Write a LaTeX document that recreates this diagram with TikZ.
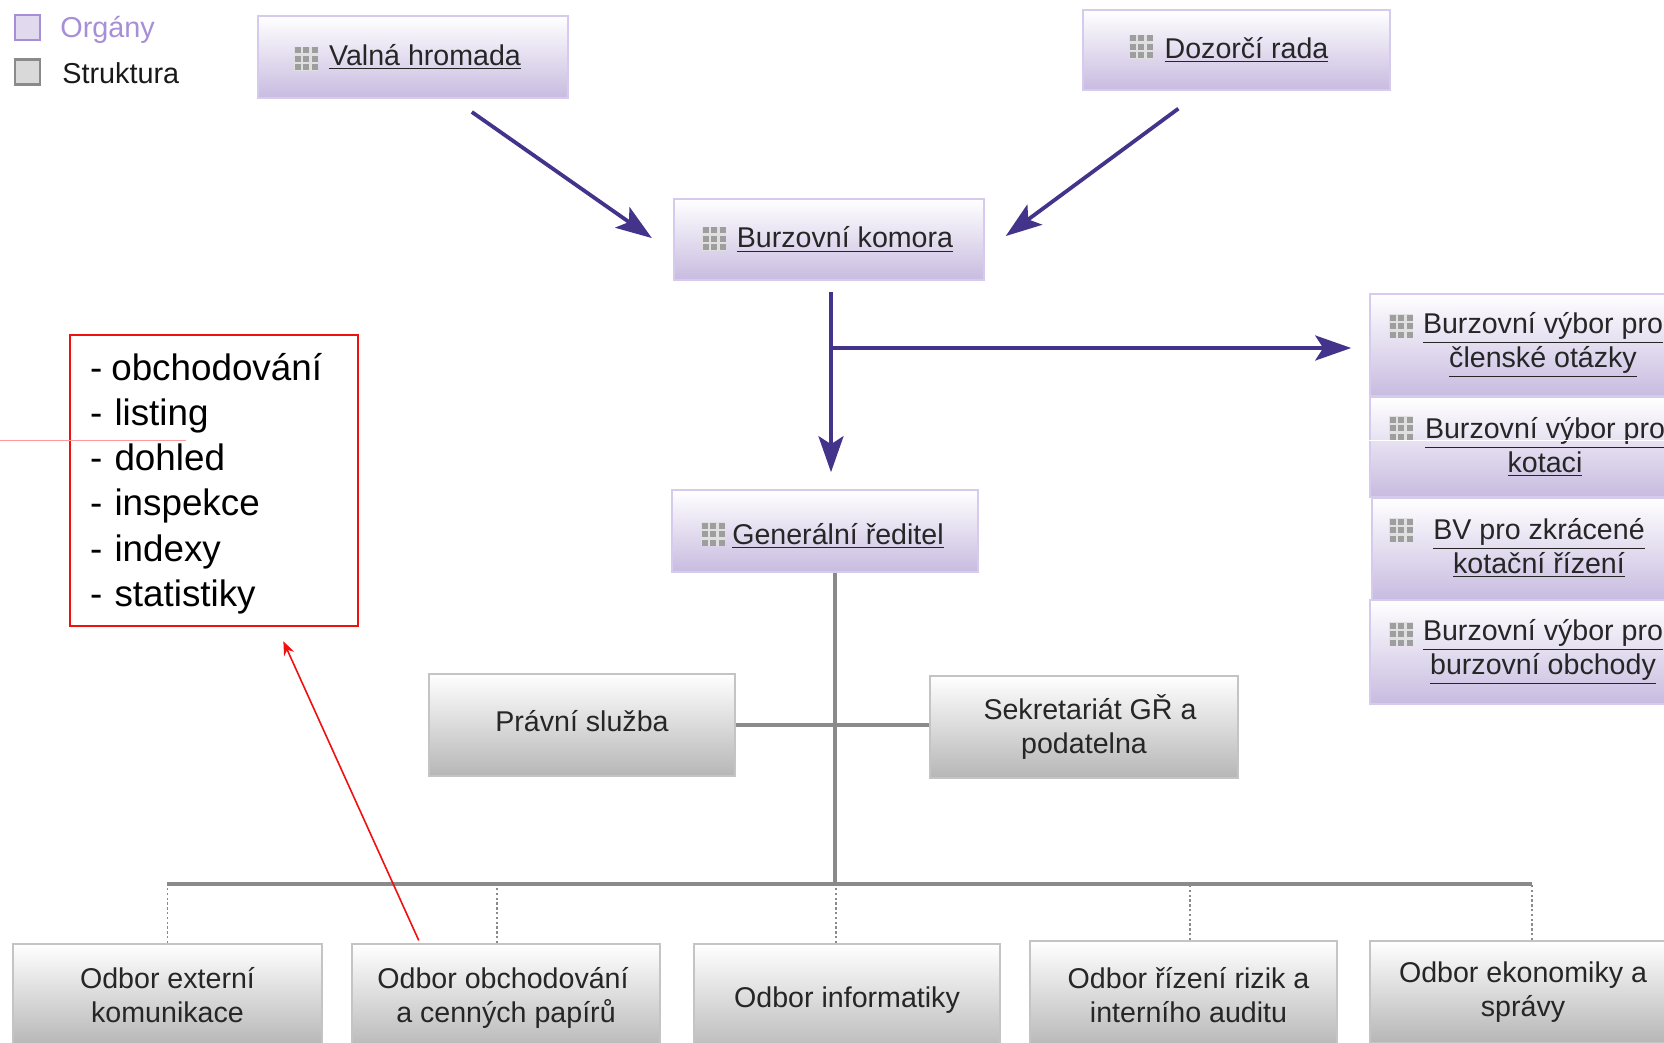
\documentclass[tikz,border=0pt]{standalone}
\usepackage{fontspec}
\setmainfont{Liberation Sans}
\usetikzlibrary{arrows.meta}
\definecolor{organline}{HTML}{D6CBEC}
\definecolor{organfill}{HTML}{C8BBE0}
\definecolor{arrowpurple}{HTML}{44338A}
\definecolor{structline}{HTML}{C4C4C4}
\definecolor{structfill}{HTML}{B6B6B6}
\definecolor{busgray}{HTML}{8A8A8A}
\definecolor{legendpurple}{HTML}{A78FD6}
\definecolor{boxred}{HTML}{F01010}
\tikzset{
    boxsize/.style 2 args={minimum width=#1*0.5pt, minimum height=#2*0.5pt},
    boxtext/.style={inner sep=0pt, align=center, text=black!85, font=\fontsize{14.3}{17}\selectfont},
    organbox/.style={boxtext, draw=organline, line width=0.8pt, top color=white, bottom color=organfill},
    structbox/.style={boxtext, draw=structline, line width=0.8pt, top color=white, bottom color=structfill},
    legendbox/.style={minimum width=12.5pt, minimum height=12.5pt, inner sep=0pt, line width=1.2pt},
    legendtext/.style={anchor=west, inner sep=0pt, font=\fontsize{14.4}{17}\selectfont},
    organarrow/.style={draw=arrowpurple, line width=1.9pt, -{Stealth[length=18pt, width=12.5pt, inset=4pt]}},
    busline/.style={draw=busgray, line width=1.7pt},
    dropline/.style={draw=busgray, line width=0.7pt, dash pattern=on 1.2pt off 1.2pt},
    redarrow/.style={draw=boxred, line width=0.8pt, -{Stealth[length=7pt, width=5.5pt]}},
    gridicon/.pic={
        \fill[black!12] (-12,-12) rectangle (12,12);
        \foreach \i in {0,1,2}
            \foreach \j in {0,1,2}
                \fill[black!38] (\i*8.5-11.5,\j*8.5-11.5) rectangle ++(6,6);
    }
}
\begin{document}
\begin{tikzpicture}[x=0.5pt, y=-0.5pt]
    \useasboundingbox (0,0) rectangle (1664,1043);
    \clip (0,0) rectangle (1664,1043);

    \node[legendbox, draw=legendpurple, fill=organfill!55] (legorgan) at (27.5,27.5) {};
    \node[legendbox, draw=busgray, fill=black!15] (legstruct) at (27.5,72) {};
    \node[legendtext, text=legendpurple] (legorgantext) at (60,29.5) {Orgány};
    \node[legendtext, text=black!90] (legstructtext) at (62,73) {Struktura};

    \node[organbox, boxsize={310}{82}] (valna) at (413,57) {\hspace*{12pt}\underline{Valná hromada}};
    \node[organbox, boxsize={307}{80}] (dozor) at (1236.5,50) {\hspace*{10pt}\underline{Dozorčí rada}};
    \node[organbox, boxsize={310}{81}] (komora) at (829,239.5) {\hspace*{16pt}\underline{Burzovní komora}};
    \node[organbox, boxsize={306}{82}] (gen) at (825,531) {\hspace*{13pt}\rule{0pt}{15.6pt}\underline{Generální ředitel}};

    \node[organbox, boxsize={346}{102}] (vyborclen) at (1543,345) {\underline{Burzovní výbor pro}\\\underline{členské otázky}};
    \node[organbox, boxsize={350}{100}] (vyborkot) at (1545,447) {\underline{Burzovní výbor pro}\\\underline{kotaci}};
    \node[organbox, boxsize={334}{102}] (vyborzkr) at (1539,549) {\underline{BV pro zkrácené}\\\underline{kotační řízení}\rule[-3.2pt]{0pt}{0pt}};
    \node[organbox, boxsize={346}{104}] (vyborobch) at (1543,652) {\underline{Burzovní výbor pro}\\\underline{burzovní obchody}};

    \node[structbox, boxsize={306}{102}] (pravni) at (582,725) {Právní služba\rule[-4pt]{0pt}{0pt}};
    \node[structbox, boxsize={308}{102}] (sekret) at (1084,727) {\hspace*{6pt}Sekretariát GŘ a\\podatelna};

    \node[structbox, boxsize={309}{102}] (odbext) at (167.5,995) {Odbor externí\\komunikace};
    \node[structbox, boxsize={308}{108}] (odbobch) at (506,998) {Odbor obchodování\hspace*{3pt}\\a cenných papírů};
    \node[structbox, boxsize={306}{113}] (odbinf) at (847,1000.5) {Odbor informatiky};
    \node[structbox, boxsize={307}{108}] (odbriz) at (1183.5,995) {\hspace*{5pt}Odbor řízení rizik a\\\hspace*{5pt}interního auditu};
    \node[structbox, boxsize={306}{102}] (odbeko) at (1523,992) {Odbor ekonomiky a\\správy};

    \node[draw=boxred, line width=1.2pt, minimum width=144pt, minimum height=145.5pt, text width=124pt, inner sep=0pt, align=left, font=\fontsize{18.4}{22.6}\selectfont] (redbox) at (214,480.5) {\rule{0pt}{16.6pt}-\hspace{-1.6pt} obchodování\\- listing\\- dohled\\- inspekce\\- indexy\\- statistiky};

    \foreach \iconx/\icony in {306/59, 1141/47, 714/239, 713/534, 1401/326, 1401/428, 1401/530, 1401/634}
        \pic at (\iconx,\icony) {gridicon};

    \coordinate (pinkstart) at (0,440);
    \coordinate (pinkend) at (186,440);
    \draw[red!40, line width=0.4pt] (pinkstart) -- (pinkend);
    \draw[white, line width=0.4pt] (vyborkot.west |- pinkstart) -- (1664,440);

    \draw[organarrow, shorten <=11.5pt, shorten >=13pt] ([xshift=20pt]valna.south) -- ([yshift=-6.75pt]komora.west);
    \draw[organarrow, shorten <=15pt, shorten >=13pt] ([xshift=-17pt]dozor.south) -- ([yshift=-6pt]komora.east);
    \draw[organarrow, shorten <=5.5pt, shorten >=8.5pt] ([xshift=1pt]komora.south) -- ([xshift=1pt]komora.south |- gen.north);
    \coordinate (branch) at (831,348);
    \draw[organarrow, shorten >=9pt] (branch) -- (branch -| vyborclen.west);

    \coordinate (busleft) at (167,884);
    \coordinate (busright) at (1532,884);
    \draw[busline] (busleft) -- (busright);
    \draw[busline] ([xshift=5pt]gen.south) -- ([xshift=5pt]gen.south |- busleft);
    \draw[busline] (pravni.east) -- (pravni.east -| sekret.west);
    \foreach \boxname/\dropshift in {odbext/0, odbobch/-4.5, odbinf/-5.5, odbriz/3.25, odbeko/4.5}
        \draw[dropline] ([xshift=\dropshift pt]\boxname.north) -- ([xshift=\dropshift pt]\boxname.north |- busleft);

    \draw[redarrow, shorten <=1.5pt, shorten >=7.7pt] ([xshift=-43pt]odbobch.north) -- ([xshift=31.5pt]redbox.south);
\end{tikzpicture}
\end{document}
